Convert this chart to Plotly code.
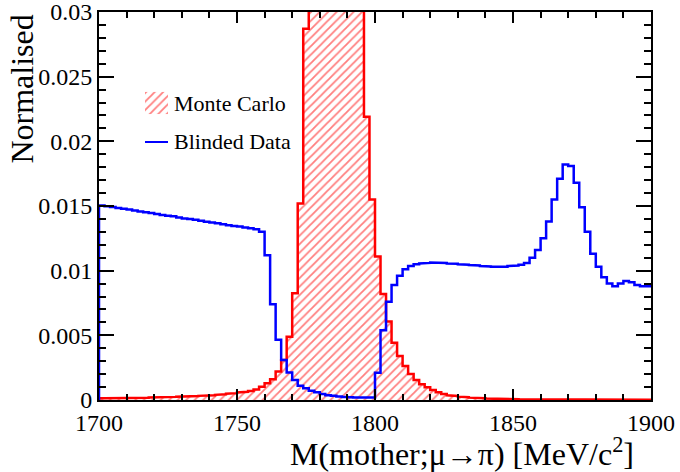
import numpy as np
import plotly.graph_objects as go

# Binning of the invariant-mass histograms (2 MeV/c^2 bins)
X_MIN, X_MAX, N_BINS = 1700.0, 1900.0, 100

# Monte Carlo, normalised to unit area (one value per bin, 1700 -> 1900)
mc_values = [
    0.00013, 0.00013, 0.00014, 0.00014, 0.00015, 0.00016, 0.00017, 0.00017, 0.00018, 0.00019,
    0.00020, 0.00021, 0.00022, 0.00024, 0.00025, 0.00027, 0.00028, 0.00030, 0.00032, 0.00034,
    0.00036, 0.00040, 0.00044, 0.00048, 0.00053, 0.00058, 0.00063, 0.00070, 0.00082, 0.00103,
    0.00129, 0.00160, 0.00220, 0.00310, 0.00490, 0.00825, 0.01520, 0.02870, 0.04400, 0.06600,
    0.09000, 0.11000, 0.12000, 0.11900, 0.10800, 0.08800, 0.05900, 0.03600, 0.02190, 0.01550,
    0.01110, 0.00820, 0.00606, 0.00443, 0.00340, 0.00263, 0.00201, 0.00155, 0.00121, 0.00098,
    0.00077, 0.00060, 0.00046, 0.00036, 0.00031, 0.00026, 0.00021, 0.00018, 0.00015, 0.00013,
    0.00011, 0.00010, 0.00009, 0.00008, 0.00007, 0.00006, 0.00005, 0.00005, 0.00004, 0.00004,
    0.00004, 0.00003, 0.00003, 0.00003, 0.00003, 0.00002, 0.00002, 0.00002, 0.00002, 0.00002,
    0.00002, 0.00002, 0.00001, 0.00001, 0.00001, 0.00001, 0.00001, 0.00001, 0.00001, 0.00001,
]

# Blinded data, normalised to unit area
data_values = [
    0.01504, 0.01498, 0.01492, 0.01484, 0.01478, 0.01472, 0.01465, 0.01457, 0.01451, 0.01446,
    0.01438, 0.01431, 0.01425, 0.01420, 0.01412, 0.01404, 0.01399, 0.01393, 0.01386, 0.01378,
    0.01373, 0.01367, 0.01359, 0.01352, 0.01346, 0.01341, 0.01333, 0.01328, 0.01320, 0.01300,
    0.01120, 0.00740, 0.00465, 0.00310, 0.00212, 0.00155, 0.00110, 0.00090, 0.00072, 0.00060,
    0.00046, 0.00036, 0.00032, 0.00027, 0.00024, 0.00022, 0.00020, 0.00020, 0.00021, 0.00020,
    0.00210, 0.00540, 0.00760, 0.00890, 0.00960, 0.01010, 0.01036, 0.01049, 0.01056, 0.01060,
    0.01063, 0.01065, 0.01060, 0.01056, 0.01053, 0.01050, 0.01046, 0.01043, 0.01040, 0.01036,
    0.01033, 0.01030, 0.01030, 0.01030, 0.01036, 0.01040, 0.01046, 0.01060, 0.01100, 0.01160,
    0.01250, 0.01380, 0.01550, 0.01710, 0.01820, 0.01810, 0.01680, 0.01490, 0.01300, 0.01130,
    0.01030, 0.00950, 0.00900, 0.00880, 0.00900, 0.00920, 0.00910, 0.00890, 0.00880, 0.00880,
]

legend_labels = ["Monte Carlo", "Blinded Data"]
x_tick_vals = [1700, 1750, 1800, 1850, 1900]
x_tick_text = ["1700", "1750", "1800", "1850", "1900"]
y_tick_vals = [0, 0.005, 0.01, 0.015, 0.02, 0.025, 0.03]
y_tick_text = ["0", "0.005", "0.01", "0.015", "0.02", "0.025", "0.03"]
x_title = "M(mother;\u03bc\u2192\u03c0) [MeV/c<sup>2</sup>]"
y_title = "Normalised"

FONT = "Liberation Serif"
RED = "#ff0000"
BLUE = "#0000ff"

edges = np.linspace(X_MIN, X_MAX, N_BINS + 1)


def histogram_outline(values):
    """Step outline of a histogram: rises from zero at the first edge, ends on the last bin."""
    v = np.asarray(values, dtype=float)
    xs = np.repeat(edges, 2)[:-1]
    ys = np.concatenate([[0.0], np.repeat(v, 2)])
    return xs, ys


hatch = dict(shape="/", fgcolor=RED, bgcolor="rgba(0,0,0,0)", size=6, solidity=0.3)

fig = go.Figure()

mc_x, mc_y = histogram_outline(mc_values)
fig.add_trace(go.Scatter(
    x=mc_x, y=mc_y, mode="lines", showlegend=False,
    line=dict(color=RED, width=2.5),
    fill="tozeroy", fillcolor="rgba(0,0,0,0)", fillpattern=hatch,
    hoverinfo="skip",
))

data_x, data_y = histogram_outline(data_values)
fig.add_trace(go.Scatter(
    x=data_x, y=data_y, mode="lines", showlegend=False,
    line=dict(color=BLUE, width=2.5),
    hoverinfo="skip",
))

# Legend drawn on a hidden overlay frame spanning the plot area (0..1 in both directions)
fig.add_trace(go.Scatter(
    x=[0.0833, 0.125, 0.125, 0.0833, 0.0833], y=[0.737, 0.737, 0.794, 0.794, 0.737],
    xaxis="x2", yaxis="y2", mode="lines", showlegend=False,
    line=dict(width=0, color="rgba(0,0,0,0)"),
    fill="toself", fillcolor="rgba(0,0,0,0)", fillpattern=hatch, hoverinfo="skip",
))
fig.add_trace(go.Scatter(
    x=[0.0833, 0.125], y=[0.665, 0.665], xaxis="x2", yaxis="y2",
    mode="lines", showlegend=False, line=dict(color=BLUE, width=2), hoverinfo="skip",
))
for label, ypos in zip(legend_labels, [0.765, 0.665]):
    fig.add_annotation(
        x=0.132, y=ypos, xref="x2", yref="y2", text=label, showarrow=False,
        xanchor="left", yanchor="middle", font=dict(family=FONT, size=22, color="black"),
    )

# Axis titles, placed at the far end of each axis
fig.add_annotation(
    x=0.972, y=-0.135, xref="paper", yref="paper", text=x_title, showarrow=False,
    xanchor="right", yanchor="middle", font=dict(family=FONT, size=32, color="black"),
)
fig.add_annotation(
    x=-0.14, y=0.999, xref="paper", yref="paper", text=y_title, showarrow=False,
    textangle=-90, xanchor="center", yanchor="top",
    font=dict(family=FONT, size=32, color="black"),
)

axis_common = dict(
    showgrid=False, zeroline=False, showline=True, linecolor="black", linewidth=2,
    mirror="allticks", ticks="inside", tickcolor="black", tickwidth=1.5, automargin=False,
    ticklabeloverflow="allow", tickfont=dict(family=FONT, size=24, color="black"),
)

fig.update_layout(
    width=680, height=472, autosize=False,
    margin=dict(l=99, r=29, t=12, b=72),
    paper_bgcolor="white", plot_bgcolor="white",
    xaxis=dict(
        range=[X_MIN, X_MAX], tickmode="array", tickvals=x_tick_vals, ticktext=x_tick_text,
        ticklen=11, minor=dict(tickmode="linear", tick0=X_MIN, dtick=10, ticks="inside",
                               ticklen=6, tickcolor="black", tickwidth=1.5),
        **axis_common,
    ),
    yaxis=dict(
        range=[0, 0.03], tickmode="array", tickvals=y_tick_vals, ticktext=y_tick_text,
        ticklen=15, minor=dict(tickmode="linear", tick0=0, dtick=0.001, ticks="inside",
                               ticklen=7, tickcolor="black", tickwidth=1.5),
        **axis_common,
    ),
    xaxis2=dict(domain=[0, 1], range=[0, 1], overlaying="x", anchor="y2",
                visible=False, fixedrange=True),
    yaxis2=dict(domain=[0, 1], range=[0, 1], overlaying="y", anchor="x2",
                visible=False, fixedrange=True),
)

fig.write_html("out.html")
